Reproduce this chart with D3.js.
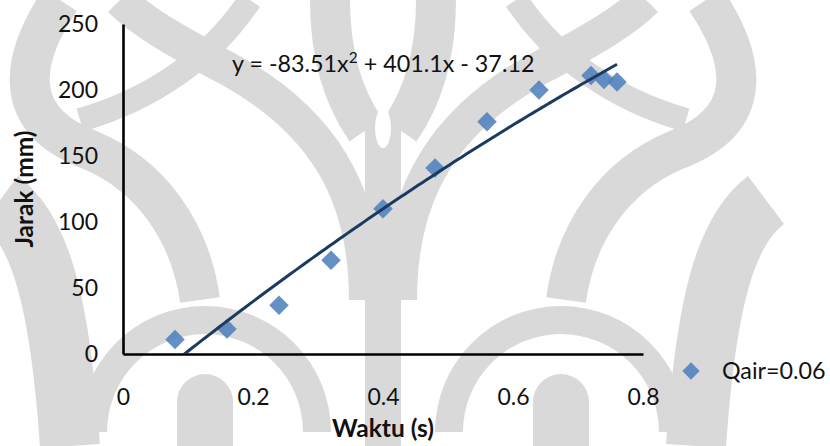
<!DOCTYPE html>
<html>
<head>
<meta charset="utf-8">
<script src="https://cdn.jsdelivr.net/npm/d3@7/dist/d3.min.js"></script>
<style>
  html, body { margin: 0; padding: 0; background: #ffffff; }
  svg { display: block; font-family: "Lato", "Open Sans", sans-serif; }
</style>
</head>
<body>
<svg id="chart" width="830" height="446"></svg>
<script>
// Measured travel distance against time
const waktu = [0.08, 0.16, 0.24, 0.32, 0.40, 0.48, 0.56, 0.64, 0.72, 0.74, 0.76];
const jarak = [11, 19, 37, 71, 110, 141, 176, 200, 211, 208, 206];
const seriesName = "Qair=0.06";

// Polynomial trendline y = a x^2 + b x + c
const trendCoef = [-83.51, 401.1, -37.12];
const trendLabel = ["y = -83.51x", "2", " + 401.1x - 37.12"];

const xTicks = [0, 0.2, 0.4, 0.6, 0.8];
const yTicks = [0, 50, 100, 150, 200, 250];
const xTitle = "Waktu (s)";
const yTitle = "Jarak (mm)";

const W = 830, H = 446;
const plot = { left: 123, right: 643, top: 24, bottom: 354 };
const svg = d3.select("#chart");

// Faint background emblem, mirrored about a central stem
const wm = svg.append("g").attr("fill", "none").attr("stroke", "#d9d9d9");
const cx = 383;
function shapes(g) {
  // lower arch and the rounded column inside it
  g.append("path").attr("d", d3.arc()({innerRadius: 98, outerRadius: 126, startAngle: -Math.PI / 2, endAngle: Math.PI / 2}))
    .attr("transform", "translate(205,432)").attr("fill", "#d9d9d9").attr("stroke", "none");
  g.append("path").attr("d", "M205,402 L205,470").attr("stroke-width", 56).attr("stroke-linecap", "round");
  // wing rising from the stem
  g.append("path").attr("d", "M366,300 C366,190 320,120 230,70 C170,38 140,20 120,0").attr("stroke-width", 34);
  g.append("path").attr("d", "M330,0 C330,60 345,100 366,130").attr("stroke-width", 40);
  // outer sweeping bands
  g.append("path").attr("d", "M60,0 C20,60 10,120 90,150 C150,175 190,230 200,300").attr("stroke-width", 40);
  g.append("path").attr("d", "M0,200 C40,230 60,300 70,446").attr("stroke-width", 60);
  g.append("path").attr("d", "M250,0 C210,60 150,100 80,120").attr("stroke-width", 24);
}
shapes(wm.append("g"));
shapes(wm.append("g").attr("transform", `translate(${2 * cx},0) scale(-1,1)`));
wm.append("path").attr("d", `M${cx},112 L${cx},446`).attr("stroke-width", 36);
wm.append("ellipse").attr("cx", cx).attr("cy", 128).attr("rx", 8).attr("ry", 20)
  .attr("fill", "#ffffff").attr("stroke", "none");

const x = d3.scaleLinear().domain([0, 0.8]).range([plot.left, plot.right]);
const y = d3.scaleLinear().domain([0, 250]).range([plot.bottom, plot.top]);

// Axes
const yAxis = svg.append("g").attr("transform", `translate(${plot.left},0)`)
  .call(d3.axisLeft(y).tickValues(yTicks).tickSize(0).tickSizeOuter(0).tickPadding(25));
const xAxis = svg.append("g").attr("transform", `translate(0,${plot.bottom})`)
  .call(d3.axisBottom(x).tickValues(xTicks).tickSize(0).tickSizeOuter(0).tickPadding(35)
    .tickFormat(d => d === 0 ? "0" : d3.format(".1f")(d)));
[xAxis, yAxis].forEach(a => {
  a.select(".domain").attr("stroke", "#000").attr("stroke-width", 2.6);
  a.selectAll("text").attr("font-family", "Lato, sans-serif").attr("font-size", 23).attr("fill", "#111");
});

// Trendline, clipped to the plot area
svg.append("clipPath").attr("id", "plotClip").append("rect")
  .attr("x", plot.left).attr("y", plot.top)
  .attr("width", plot.right - plot.left).attr("height", plot.bottom - plot.top);
const trendX = d3.range(0, 101).map(i => waktu[0] + (waktu[waktu.length - 1] - waktu[0]) * i / 100);
const poly = t => trendCoef[0] * t * t + trendCoef[1] * t + trendCoef[2];

// Markers
const diamond = d3.symbol().type(d3.symbolSquare).size(190);
svg.append("g").selectAll("path").data(waktu.map((t, i) => [t, jarak[i]])).join("path")
  .attr("d", diamond)
  .attr("transform", d => `translate(${x(d[0])},${y(d[1])}) rotate(45)`)
  .attr("fill", "#4f81bd").attr("fill-opacity", 0.88);

svg.append("path").attr("clip-path", "url(#plotClip)")
  .attr("d", d3.line().x(t => x(t)).y(t => y(poly(t)))(trendX))
  .attr("fill", "none").attr("stroke", "#1b3a60").attr("stroke-width", 3);

// Trendline equation
const eq = svg.append("text").attr("x", 232).attr("y", 72)
  .attr("font-size", 23.3).attr("fill", "#111");
eq.append("tspan").text(trendLabel[0]);
eq.append("tspan").attr("dy", -9).attr("font-size", 15.5).text(trendLabel[1]);
eq.append("tspan").attr("dy", 9).text(trendLabel[2]);

// Axis titles
svg.append("text").attr("x", 383).attr("y", 437).attr("text-anchor", "middle")
  .attr("font-size", 24.5).attr("font-weight", "bold").attr("fill", "#111").text(xTitle);
svg.append("text").attr("transform", "translate(33,189) rotate(-90)").attr("text-anchor", "middle")
  .attr("font-size", 24.5).attr("font-weight", "bold").attr("fill", "#111").text(yTitle);

// Legend
const lg = svg.append("g").attr("transform", "translate(691,371)");
lg.append("path").attr("d", d3.symbol().type(d3.symbolSquare).size(150)).attr("transform", "rotate(45)")
  .attr("fill", "#4f81bd").attr("fill-opacity", 0.88);
lg.append("text").attr("x", 31).attr("y", 8).attr("font-size", 23.3).attr("fill", "#111").text(seriesName);
</script>
</body>
</html>
